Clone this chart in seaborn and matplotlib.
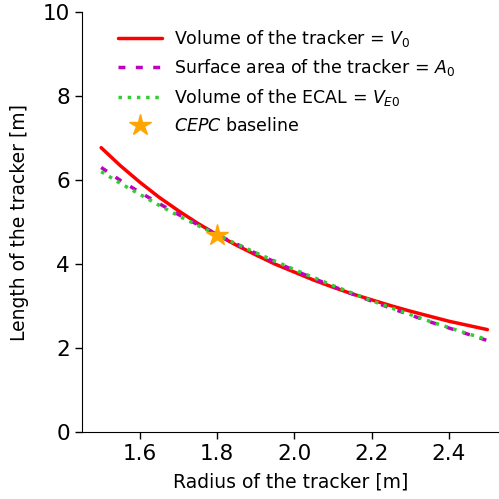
import numpy as np
import matplotlib
matplotlib.use("Agg")
import matplotlib.pyplot as plt
import seaborn as sns

# radius of the tracker [m]
radius = [1.50, 1.55, 1.60, 1.65, 1.70, 1.75, 1.80, 1.85, 1.90, 1.95, 2.00,
          2.05, 2.10, 2.15, 2.20, 2.25, 2.30, 2.35, 2.40, 2.45, 2.50]
# length at constant tracker volume
len_volume = [6.77, 6.34, 5.95, 5.59, 5.27, 4.97, 4.70, 4.45, 4.22, 4.00, 3.81,
              3.62, 3.45, 3.29, 3.15, 3.01, 2.88, 2.76, 2.64, 2.54, 2.44]
# length at constant tracker surface area
len_area = [6.30, 5.99, 5.71, 5.44, 5.18, 4.94, 4.70, 4.48, 4.26, 4.05, 3.85,
            3.66, 3.47, 3.29, 3.12, 2.95, 2.79, 2.63, 2.48, 2.33, 2.18]
# length at constant ECAL volume
len_ecal = [6.20, 5.92, 5.66, 5.40, 5.15, 4.92, 4.70, 4.48, 4.27, 4.07, 3.87,
            3.68, 3.49, 3.31, 3.13, 2.96, 2.80, 2.64, 2.49, 2.34, 2.20]
# CEPC baseline point
base_r = [1.8]
base_l = [4.7]

sns.set_style("ticks", {"text.color": "black", "axes.labelcolor": "black",
                        "xtick.color": "black", "ytick.color": "black",
                        "axes.edgecolor": "black"})
plt.rcParams['font.family'] = ['DejaVu Sans']

fig = plt.figure(figsize=(4.99, 4.99), dpi=100)
ax = fig.add_axes([0.164, 0.134, 0.836, 0.842])

sns.lineplot(x=radius, y=len_volume, ax=ax, color='red', lw=2.5,
             label=r"Volume of the tracker = $V_0$")
sns.lineplot(x=radius, y=len_area, ax=ax, color='m', lw=2.5, linestyle=(0, (2, 3)),
             label=r"Surface area of the tracker = $A_0$")
sns.lineplot(x=radius, y=len_ecal, ax=ax, color='limegreen', lw=2.5, linestyle=(0, (1, 1.65)),
             label=r"Volume of the ECAL = $V_{E0}$")
ax.plot(base_r, base_l, marker='*', color='orange', markersize=16, linestyle='none',
        label=r"$CEPC$ baseline")

ax.set_xlim(1.45, 2.53)
ax.set_ylim(0, 10)
ax.set_xticks([1.6, 1.8, 2.0, 2.2, 2.4])
ax.set_yticks([0, 2, 4, 6, 8, 10])
ax.tick_params(labelsize=15.5, length=5, width=1)
ax.set_xlabel("Radius of the tracker [m]", fontsize=13.5, labelpad=6)
ax.set_ylabel("Length of the tracker [m]", fontsize=13.5, labelpad=10)
sns.despine(ax=ax)

ax.legend(loc='upper left', bbox_to_anchor=(0.05, 1.0), frameon=False, fontsize=12.5,
          handlelength=2.5, handletextpad=0.7)

fig.savefig("out.png", dpi=100)
